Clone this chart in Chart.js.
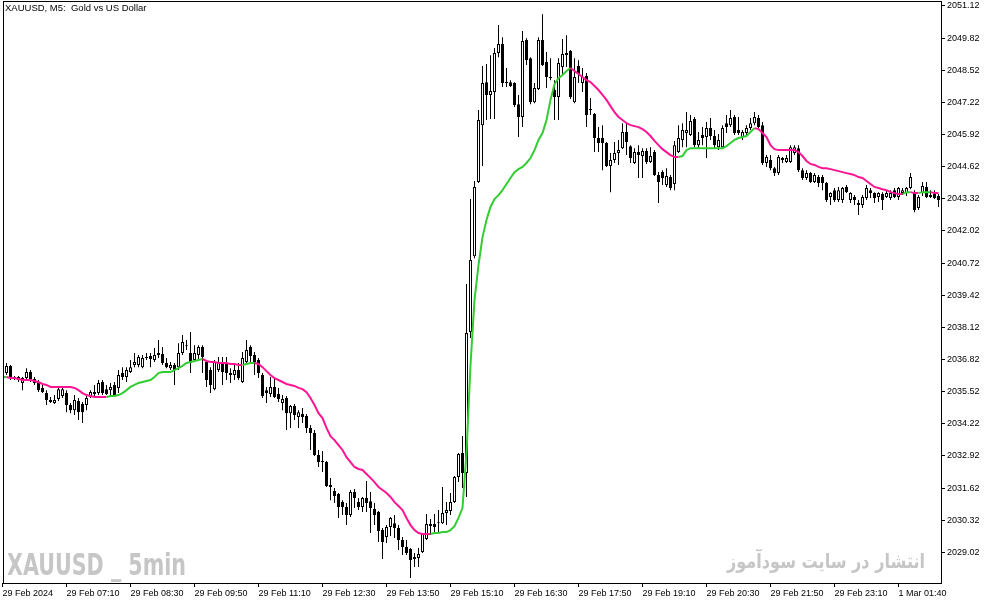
<!DOCTYPE html>
<html>
<head>
<meta charset="utf-8">
<script src="https://cdn.jsdelivr.net/npm/chart.js@4.4.1/dist/chart.umd.min.js"></script>
<style>
  html, body { margin: 0; padding: 0; background: #fff; }
  #wrap { width: 994px; height: 605px; }
</style>
</head>
<body>
<div id="wrap"><canvas id="chart" width="994" height="605"></canvas></div>
<script>
// XAUUSD M5 candles (one value per bar)
var opens = [
  2036.27, 2036.27, 2036.56, 2036.03, 2036.11, 2035.87, 2036.07, 2036.31, 2036.03, 2035.91,
  2035.67, 2035.46, 2035.18, 2035.06, 2035.22, 2035.34, 2035.46, 2034.98, 2034.77, 2035.14,
  2035.02, 2034.98, 2035.30, 2035.42, 2035.46, 2035.91, 2035.62, 2035.58, 2035.79, 2035.67,
  2036.27, 2036.11, 2036.31, 2036.60, 2036.60, 2036.51, 2036.92, 2036.96, 2036.80, 2037.00,
  2037.04, 2036.68, 2036.47, 2036.60, 2036.51, 2037.08, 2037.40, 2037.08, 2036.80, 2037.00,
  2037.32, 2036.72, 2036.39, 2035.62, 2036.39, 2036.72, 2036.68, 2036.27, 2036.19, 2036.39,
  2035.91, 2036.72, 2037.32, 2037.00, 2036.80, 2036.19, 2035.58, 2035.42, 2035.71, 2035.42,
  2035.06, 2035.26, 2034.65, 2034.94, 2034.49, 2034.61, 2034.53, 2034.05, 2033.85, 2032.96,
  2032.71, 2032.67, 2031.74, 2031.50, 2031.38, 2031.05, 2030.85, 2030.53, 2031.46, 2031.05,
  2030.85, 2031.22, 2031.09, 2030.77, 2030.65, 2029.92, 2029.64, 2030.04, 2030.20, 2030.00,
  2029.52, 2029.23, 2029.15, 2028.75, 2028.79, 2029.03, 2029.56, 2030.08, 2030.16, 2030.20,
  2030.20, 2030.61, 2030.69, 2031.05, 2032.07, 2033.04, 2032.23, 2037.93, 2041.00, 2044.00,
  2046.30, 2048.04, 2047.52, 2047.64, 2049.22, 2049.58, 2048.04, 2048.04, 2048.00, 2047.15,
  2046.63, 2049.74, 2049.01, 2047.23, 2047.76, 2049.74, 2048.85, 2048.25, 2047.72, 2047.44,
  2048.65, 2049.22, 2049.30, 2047.23, 2048.69, 2048.00, 2048.29, 2046.95, 2046.75, 2045.78,
  2045.78, 2045.58, 2044.65, 2044.89, 2045.17, 2045.37, 2046.02, 2045.45, 2044.77, 2045.21,
  2045.05, 2045.25, 2044.81, 2045.21, 2044.28, 2044.40, 2043.88, 2044.20, 2043.92, 2045.21,
  2045.70, 2045.98, 2045.90, 2046.55, 2045.49, 2045.90, 2045.82, 2046.18, 2045.86, 2045.41,
  2045.41, 2046.38, 2046.30, 2046.63, 2046.10, 2045.82, 2045.98, 2046.18, 2046.38, 2046.59,
  2046.30, 2044.77, 2044.89, 2044.56, 2044.36, 2044.97, 2044.81, 2044.81, 2045.17, 2045.37,
  2044.48, 2044.16, 2044.36, 2044.00, 2044.20, 2044.20, 2043.96, 2043.39, 2043.67, 2043.27,
  2043.27, 2043.80, 2043.27, 2043.39, 2043.07, 2043.07, 2043.35, 2043.67, 2043.55, 2043.39,
  2043.51, 2043.39, 2043.35, 2043.67, 2043.39, 2043.55, 2043.55, 2043.76, 2043.59, 2042.95,
  2043.55, 2043.80, 2043.47, 2043.51, 2043.43
];
var highs = [
  2036.31, 2036.68, 2036.60, 2036.15, 2036.15, 2036.11, 2036.47, 2036.39, 2036.11, 2035.99,
  2035.79, 2035.58, 2035.30, 2035.38, 2035.71, 2035.75, 2035.58, 2035.06, 2035.38, 2035.26,
  2035.10, 2035.38, 2035.58, 2035.79, 2035.99, 2035.99, 2035.79, 2035.87, 2035.91, 2036.39,
  2036.51, 2036.51, 2036.80, 2037.08, 2037.00, 2037.00, 2037.08, 2037.08, 2037.28, 2037.61,
  2037.32, 2036.88, 2036.72, 2036.68, 2037.48, 2037.81, 2037.61, 2037.93, 2037.40, 2037.40,
  2037.40, 2036.80, 2036.51, 2036.80, 2036.92, 2036.92, 2036.92, 2036.47, 2036.68, 2036.68,
  2037.12, 2037.61, 2037.40, 2037.12, 2036.88, 2036.27, 2035.71, 2036.11, 2036.07, 2035.67,
  2035.38, 2035.34, 2034.98, 2035.02, 2034.77, 2034.86, 2034.61, 2034.17, 2033.97, 2033.16,
  2033.12, 2032.71, 2032.03, 2031.62, 2031.42, 2031.13, 2031.01, 2031.54, 2031.58, 2031.22,
  2031.26, 2031.90, 2031.46, 2031.01, 2030.69, 2030.00, 2030.12, 2030.45, 2030.53, 2030.12,
  2029.64, 2029.52, 2029.19, 2028.99, 2029.19, 2029.80, 2030.57, 2030.37, 2030.57, 2030.73,
  2031.66, 2031.05, 2031.42, 2032.11, 2033.04, 2033.72, 2039.87, 2043.31, 2044.04, 2046.91,
  2048.69, 2048.77, 2049.13, 2049.42, 2050.35, 2049.86, 2048.61, 2048.12, 2048.04, 2047.52,
  2050.11, 2049.82, 2049.05, 2048.00, 2049.86, 2050.79, 2049.26, 2049.01, 2048.12, 2049.01,
  2049.78, 2049.94, 2049.34, 2049.01, 2048.93, 2048.61, 2048.41, 2047.40, 2046.79, 2046.22,
  2046.30, 2045.62, 2045.17, 2045.62, 2045.70, 2046.38, 2046.38, 2045.49, 2045.37, 2045.49,
  2045.37, 2045.37, 2045.41, 2045.29, 2044.40, 2044.48, 2044.56, 2044.28, 2045.66, 2046.30,
  2046.38, 2046.83, 2046.71, 2046.63, 2046.02, 2046.22, 2046.43, 2046.59, 2046.10, 2045.94,
  2046.30, 2046.71, 2046.91, 2046.71, 2046.63, 2046.10, 2046.30, 2046.59, 2046.83, 2046.71,
  2046.43, 2045.09, 2045.09, 2044.61, 2045.09, 2045.01, 2045.09, 2045.49, 2045.49, 2045.49,
  2044.56, 2044.48, 2044.40, 2044.36, 2044.28, 2044.28, 2044.00, 2043.59, 2043.76, 2043.80,
  2043.80, 2043.88, 2043.59, 2043.47, 2043.27, 2043.47, 2043.88, 2043.76, 2043.59, 2043.59,
  2043.59, 2043.67, 2043.67, 2043.76, 2043.80, 2043.76, 2043.80, 2044.36, 2043.67, 2043.47,
  2044.00, 2044.00, 2043.67, 2043.67, 2043.51
];
var lows = [
  2035.67, 2036.19, 2035.99, 2035.99, 2035.91, 2035.58, 2035.99, 2035.91, 2035.79, 2035.50,
  2035.46, 2034.98, 2035.06, 2035.02, 2035.14, 2035.26, 2034.69, 2034.65, 2034.57, 2034.37,
  2034.25, 2034.77, 2035.26, 2035.34, 2035.38, 2035.38, 2035.38, 2035.38, 2035.30, 2035.46,
  2035.99, 2035.91, 2036.27, 2036.51, 2036.51, 2036.47, 2036.80, 2036.51, 2036.72, 2036.88,
  2036.60, 2036.47, 2036.39, 2035.79, 2036.39, 2037.00, 2037.20, 2036.27, 2036.72, 2036.80,
  2036.27, 2035.71, 2035.46, 2035.58, 2036.31, 2035.79, 2035.99, 2035.87, 2035.99, 2035.99,
  2035.87, 2036.68, 2036.68, 2036.19, 2036.07, 2035.26, 2035.06, 2035.30, 2035.26, 2035.10,
  2034.77, 2033.97, 2034.05, 2034.37, 2034.05, 2034.25, 2033.85, 2033.16, 2032.92, 2032.47,
  2032.27, 2031.66, 2031.13, 2031.01, 2030.41, 2030.53, 2030.12, 2030.45, 2030.81, 2030.73,
  2030.65, 2030.65, 2029.80, 2030.12, 2029.44, 2028.75, 2029.40, 2029.68, 2029.60, 2029.11,
  2028.91, 2028.91, 2027.98, 2028.43, 2028.43, 2028.99, 2029.52, 2029.72, 2029.80, 2029.80,
  2030.16, 2030.12, 2030.53, 2031.01, 2031.86, 2031.62, 2031.26, 2037.69, 2040.92, 2043.96,
  2044.65, 2046.51, 2046.55, 2046.55, 2049.05, 2047.84, 2047.84, 2047.84, 2047.03, 2045.82,
  2046.22, 2048.73, 2047.15, 2047.19, 2047.72, 2048.69, 2047.80, 2048.12, 2046.51, 2046.51,
  2048.33, 2048.65, 2047.36, 2047.19, 2048.00, 2047.64, 2046.22, 2046.71, 2045.21, 2045.21,
  2044.48, 2044.61, 2043.59, 2044.77, 2044.69, 2045.33, 2045.09, 2044.77, 2044.73, 2044.16,
  2044.16, 2044.73, 2044.77, 2044.24, 2043.15, 2043.88, 2043.80, 2043.67, 2043.67, 2045.17,
  2045.41, 2045.41, 2045.86, 2045.41, 2045.37, 2045.49, 2044.97, 2045.70, 2045.37, 2045.29,
  2045.37, 2045.98, 2046.22, 2045.90, 2045.90, 2045.70, 2045.90, 2046.10, 2046.30, 2046.18,
  2044.69, 2044.61, 2044.48, 2044.24, 2044.28, 2044.77, 2044.77, 2044.77, 2045.09, 2044.40,
  2044.08, 2044.08, 2043.96, 2043.96, 2043.80, 2043.67, 2043.19, 2043.07, 2043.19, 2043.19,
  2043.15, 2043.55, 2043.15, 2043.07, 2042.66, 2042.95, 2043.27, 2043.35, 2043.15, 2043.19,
  2042.87, 2043.35, 2043.27, 2043.35, 2043.27, 2043.47, 2043.43, 2043.71, 2042.78, 2042.87,
  2043.43, 2043.35, 2043.35, 2043.31, 2042.99
];
var closes = [
  2035.99, 2036.56, 2036.11, 2036.11, 2035.99, 2036.07, 2036.31, 2036.03, 2035.87, 2035.58,
  2035.50, 2035.18, 2035.10, 2035.18, 2035.62, 2035.62, 2034.98, 2034.77, 2035.18, 2034.69,
  2034.69, 2035.26, 2035.50, 2035.50, 2035.87, 2035.46, 2035.42, 2035.71, 2035.38, 2036.19,
  2036.11, 2036.39, 2036.51, 2036.72, 2036.92, 2036.88, 2036.88, 2036.84, 2037.00, 2037.08,
  2036.68, 2036.51, 2036.60, 2036.39, 2037.08, 2037.53, 2037.36, 2036.68, 2037.08, 2037.32,
  2036.92, 2035.99, 2035.79, 2036.72, 2036.72, 2036.31, 2036.27, 2036.19, 2036.39, 2036.07,
  2036.88, 2037.20, 2036.96, 2036.72, 2036.27, 2035.34, 2035.46, 2035.71, 2035.30, 2035.22,
  2035.22, 2034.65, 2034.94, 2034.57, 2034.69, 2034.49, 2034.05, 2033.85, 2032.96, 2032.67,
  2032.67, 2031.70, 2031.66, 2031.30, 2030.85, 2030.85, 2030.53, 2031.46, 2031.22, 2030.85,
  2031.22, 2031.01, 2030.81, 2030.53, 2029.88, 2029.44, 2030.04, 2030.41, 2030.00, 2029.52,
  2029.23, 2028.99, 2028.71, 2028.83, 2028.95, 2029.76, 2030.16, 2030.16, 2030.04, 2030.24,
  2030.61, 2030.73, 2031.05, 2032.07, 2033.00, 2032.23, 2037.89, 2040.84, 2043.80, 2046.51,
  2048.00, 2047.52, 2047.68, 2049.22, 2049.58, 2048.00, 2048.00, 2047.88, 2047.11, 2046.63,
  2049.70, 2048.93, 2047.23, 2047.80, 2049.74, 2048.73, 2048.25, 2048.20, 2047.44, 2048.81,
  2049.18, 2049.14, 2047.44, 2048.25, 2048.37, 2048.25, 2046.71, 2046.91, 2045.78, 2045.58,
  2045.58, 2044.65, 2044.89, 2045.17, 2045.29, 2046.02, 2045.62, 2044.97, 2045.21, 2045.09,
  2045.25, 2044.81, 2045.05, 2044.28, 2044.00, 2044.16, 2044.24, 2043.76, 2045.49, 2045.78,
  2046.10, 2046.10, 2046.47, 2045.49, 2045.70, 2045.78, 2046.18, 2045.86, 2045.49, 2045.70,
  2046.18, 2046.22, 2046.59, 2045.98, 2045.98, 2046.02, 2046.18, 2046.38, 2046.63, 2046.22,
  2044.77, 2045.01, 2044.56, 2044.36, 2045.01, 2044.89, 2044.97, 2045.41, 2045.41, 2044.48,
  2044.16, 2044.36, 2044.00, 2044.28, 2043.96, 2043.96, 2043.27, 2043.55, 2043.27, 2043.67,
  2043.76, 2043.59, 2043.55, 2043.27, 2043.15, 2043.39, 2043.76, 2043.55, 2043.35, 2043.55,
  2043.27, 2043.55, 2043.55, 2043.39, 2043.76, 2043.67, 2043.76, 2044.20, 2042.87, 2043.39,
  2043.84, 2043.39, 2043.39, 2043.35, 2043.27
];
// colour-changing moving average drawn over the candles
var movingAvg = [
  2036.11, 2036.11, 2036.07, 2036.07, 2036.03, 2035.99, 2035.99, 2035.99, 2035.95, 2035.91,
  2035.83, 2035.79, 2035.71, 2035.71, 2035.71, 2035.71, 2035.71, 2035.71, 2035.67, 2035.58,
  2035.46, 2035.38, 2035.34, 2035.30, 2035.30, 2035.30, 2035.30, 2035.34, 2035.34, 2035.38,
  2035.46, 2035.58, 2035.71, 2035.79, 2035.87, 2035.91, 2035.95, 2035.99, 2036.11, 2036.27,
  2036.31, 2036.31, 2036.31, 2036.39, 2036.47, 2036.56, 2036.68, 2036.72, 2036.76, 2036.80,
  2036.84, 2036.76, 2036.72, 2036.72, 2036.68, 2036.68, 2036.68, 2036.64, 2036.64, 2036.60,
  2036.60, 2036.64, 2036.68, 2036.68, 2036.64, 2036.51, 2036.35, 2036.19, 2036.07, 2035.99,
  2035.91, 2035.83, 2035.79, 2035.75, 2035.67, 2035.62, 2035.50, 2035.26, 2034.98, 2034.65,
  2034.45, 2034.05, 2033.72, 2033.56, 2033.36, 2033.16, 2032.87, 2032.67, 2032.47, 2032.39,
  2032.35, 2032.19, 2032.03, 2031.86, 2031.66, 2031.54, 2031.42, 2031.26, 2031.05, 2030.89,
  2030.73, 2030.41, 2030.12, 2029.92, 2029.80, 2029.76, 2029.76, 2029.76, 2029.80, 2029.80,
  2029.84, 2029.84, 2029.92, 2030.08, 2030.41, 2030.81, 2033.04, 2036.60, 2039.23, 2040.64,
  2041.77, 2042.46, 2042.99, 2043.31, 2043.47, 2043.67, 2043.92, 2044.16, 2044.40, 2044.52,
  2044.61, 2044.77, 2044.97, 2045.29, 2045.70, 2045.98, 2046.51, 2047.32, 2047.96, 2048.20,
  2048.33, 2048.49, 2048.61, 2048.49, 2048.37, 2048.25, 2048.12, 2048.04, 2047.88, 2047.72,
  2047.52, 2047.32, 2047.07, 2046.83, 2046.63, 2046.51, 2046.38, 2046.30, 2046.26, 2046.22,
  2046.14, 2046.02, 2045.86, 2045.66, 2045.49, 2045.33, 2045.21, 2045.09, 2045.01, 2045.01,
  2045.05, 2045.29, 2045.37, 2045.37, 2045.37, 2045.37, 2045.37, 2045.37, 2045.37, 2045.37,
  2045.37, 2045.45, 2045.58, 2045.70, 2045.78, 2045.82, 2045.86, 2046.02, 2046.18, 2046.14,
  2045.98, 2045.82, 2045.49, 2045.33, 2045.29, 2045.29, 2045.29, 2045.29, 2045.29, 2045.21,
  2045.05, 2044.85, 2044.73, 2044.69, 2044.61, 2044.56, 2044.56, 2044.52, 2044.48, 2044.44,
  2044.40, 2044.36, 2044.32, 2044.28, 2044.20, 2044.16, 2044.04, 2043.92, 2043.80, 2043.76,
  2043.71, 2043.67, 2043.59, 2043.55, 2043.51, 2043.51, 2043.59, 2043.59, 2043.55, 2043.55,
  2043.59, 2043.59, 2043.59, 2043.55, 2043.55
];
var timeTickBars = [0, 16, 32, 48, 64, 80, 96, 112, 128, 144, 160, 176, 192, 208, 224];
var timeTickLabels = [
  "29 Feb 2024", "29 Feb 07:10", "29 Feb 08:30", "29 Feb 09:50", "29 Feb 11:10",
  "29 Feb 12:30", "29 Feb 13:50", "29 Feb 15:10", "29 Feb 16:30", "29 Feb 17:50",
  "29 Feb 19:10", "29 Feb 20:30", "29 Feb 21:50", "29 Feb 23:10", "1 Mar 01:40"
];
var priceTicks = [
  2029.02, 2030.32, 2031.62, 2032.92, 2034.22, 2035.52, 2036.82, 2038.12, 2039.42,
  2040.72, 2042.02, 2043.32, 2044.62, 2045.92, 2047.22, 2048.52, 2049.82, 2051.12
];

(function () {
  "use strict";

  var FONT = '"Liberation Sans", Arial, sans-serif';
  var MA_UP = "#32cd32";
  var MA_DOWN = "#ff1493";
  var WATERMARK = "#c6c6c6";

  Chart.defaults.font.family = FONT;
  Chart.defaults.font.size = 9;
  Chart.defaults.color = "#000";

  // each MA segment takes the colour of its own slope, flat runs keep the last one
  var maColors = [MA_UP];
  for (var i = 1; i < movingAvg.length; i += 1) {
    var d = movingAvg[i] - movingAvg[i - 1];
    maColors.push(d > 0 ? MA_UP : d < 0 ? MA_DOWN : maColors[i - 1]);
  }

  function stretched(ctx, text, font, x, baseline, width) {
    ctx.save();
    ctx.font = font;
    ctx.textBaseline = "alphabetic";
    ctx.textAlign = "left";
    var w = ctx.measureText(text).width;
    ctx.translate(x, baseline);
    ctx.scale(width / w, 1);
    ctx.fillText(text, 0, 0);
    ctx.restore();
  }

  var terminal = {
    id: "terminal",
    beforeDraw: function (chart) {
      var ctx = chart.ctx;
      ctx.save();
      ctx.fillStyle = "#fff";
      ctx.fillRect(0, 0, chart.width, chart.height);
      ctx.restore();
    },
    beforeDatasetsDraw: function (chart) {
      var ctx = chart.ctx;
      ctx.fillStyle = WATERMARK;
      stretched(ctx, "XAUUSD _ 5min", 'bold 31px "Liberation Sans Narrow", "DejaVu Sans Condensed", ' + FONT, 7, 575, 179);
      stretched(ctx, "انتشار در سایت سودآموز", 'bold 20px "DejaVu Sans"', 727, 568, 198);
    },
    afterDraw: function (chart) {
      var ctx = chart.ctx;
      var a = chart.chartArea;
      ctx.save();
      ctx.strokeStyle = "#000";
      ctx.lineWidth = 1;
      ctx.strokeRect(a.left + 0.5, a.top + 0.5, a.right - a.left, a.bottom - a.top);
      ctx.fillStyle = "#000";
      ctx.font = "9.5px " + FONT;
      ctx.textBaseline = "middle";
      ctx.fillText("XAUUSD, M5:  Gold vs US Dollar", 5, 8);
      ctx.restore();
    }
  };

  new Chart(document.getElementById("chart"), {
    type: "bar",
    data: {
      datasets: [
        {
          type: "line",
          label: "MA",
          data: movingAvg.map(function (v, i) { return { x: i, y: v }; }),
          borderColor: MA_UP,
          borderWidth: 2,
          pointRadius: 0,
          tension: 0,
          fill: false,
          order: 0,
          segment: { borderColor: function (ctx) { return maColors[ctx.p1DataIndex]; } }
        },
        {
          label: "body",
          data: opens.map(function (o, i) { return { x: i, y: [o, closes[i]] }; }),
          backgroundColor: opens.map(function (o, i) { return closes[i] >= o ? "#fff" : "#000"; }),
          borderColor: "#000",
          borderWidth: 1,
          borderSkipped: false,
          barThickness: 3,
          maxBarThickness: 3,
          minBarLength: 1,
          grouped: false,
          inflateAmount: 0,
          order: 1
        },
        {
          label: "wick",
          data: lows.map(function (l, i) { return { x: i, y: [l, highs[i]] }; }),
          backgroundColor: "#000",
          borderWidth: 0,
          barThickness: 1,
          maxBarThickness: 1,
          grouped: false,
          inflateAmount: 0,
          order: 2
        }
      ]
    },
    options: {
      responsive: false,
      animation: false,
      devicePixelRatio: 1,
      events: [],
      layout: { autoPadding: false, padding: { left: 3, top: 1, right: 0, bottom: 0 } },
      plugins: { legend: { display: false }, tooltip: { enabled: false } },
      scales: {
        x: {
          type: "linear",
          position: "bottom",
          min: 0.125,
          max: 234.625,
          offset: false,
          afterBuildTicks: function (s) { s.ticks = timeTickBars.map(function (v) { return { value: v }; }); },
          afterFit: function (s) { s.height = 22; s.paddingLeft = 0; s.paddingRight = 0; },
          grid: { offset: false, drawOnChartArea: false, drawTicks: true, tickLength: 4, tickColor: "#000" },
          border: { display: false },
          ticks: {
            autoSkip: false, maxRotation: 0, minRotation: 0, align: "start", padding: 1,
            callback: function (v, index) { return timeTickLabels[index]; }
          }
        },
        y: {
          type: "linear",
          position: "right",
          min: 2027.778,
          max: 2051.322,
          afterBuildTicks: function (s) { s.ticks = priceTicks.map(function (v) { return { value: v }; }); },
          afterFit: function (s) { s.width = 53; s.paddingTop = 0; s.paddingBottom = 0; },
          grid: { drawOnChartArea: false, drawTicks: true, tickLength: 4, tickColor: "#000" },
          border: { display: false },
          ticks: { padding: 2, callback: function (v) { return Number(v).toFixed(2); } }
        }
      }
    },
    plugins: [terminal]
  });
})();
</script>
</body>
</html>
